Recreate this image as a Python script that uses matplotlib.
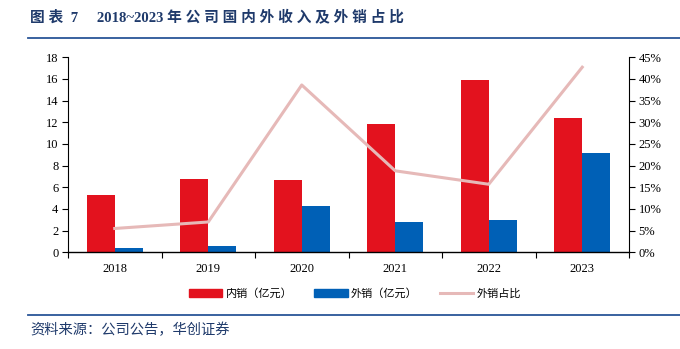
import numpy as np
import matplotlib.pyplot as plt
from matplotlib.lines import Line2D
from matplotlib.patches import Patch

plt.rcParams['font.family'] = ['Liberation Serif', 'Noto Sans CJK SC']

years = ['2018', '2019', '2020', '2021', '2022', '2023']
domestic = [5.3, 6.75, 6.65, 11.8, 15.9, 12.4]    # 内销（亿元）
overseas = [0.4, 0.58, 4.25, 2.8, 3.0, 9.2]       # 外销（亿元）
share = [5.5, 7.0, 38.6, 18.8, 15.7, 42.7]        # 外销占比 %

red = '#E3121E'
blue = '#0060B6'
pink = '#E6B9B8'
navy = '#1F3A6B'

fig = plt.figure(figsize=(6.8, 3.49), dpi=100)
ax = fig.add_axes([0.1, 0.277, 0.825, 0.559])
x = np.arange(len(years))
w = 0.3
ax.bar(x - w / 2, domestic, w, color=red, zorder=2)
ax.bar(x + w / 2, overseas, w, color=blue, zorder=2)
ax.set_ylim(0, 18)
ax.set_yticks(range(0, 19, 2))
ax.set_xlim(-0.5, len(years) - 0.5)
ax.set_xticks(x)
ax.set_xticklabels(years)
ax.set_xticks(np.arange(-0.5, len(years), 1), minor=True)
ax.tick_params(axis='x', which='major', length=0, pad=8)
ax.tick_params(axis='x', which='minor', length=4, direction='out', width=0.8)
ax.tick_params(axis='y', length=4, direction='out', width=0.8, pad=3)
ax.tick_params(labelsize=9)
for s in ['top', 'right']:
    ax.spines[s].set_visible(False)
ax.spines['left'].set_linewidth(0.8)
ax.spines['bottom'].set_linewidth(1.0)

ax2 = ax.twinx()
ax2.plot(x, share, color=pink, lw=2.2, zorder=3)
ax2.set_ylim(0, 45)
ax2.set_yticks(range(0, 46, 5))
ax2.set_yticklabels([f'{v}%' for v in range(0, 46, 5)])
ax2.tick_params(axis='y', length=4, direction='out', width=0.8, labelsize=9, pad=3)
for s in ['top', 'left', 'bottom']:
    ax2.spines[s].set_visible(False)
ax2.spines['right'].set_linewidth(0.8)
ax2.set_zorder(ax.get_zorder() + 1)

handles = [Patch(color=red), Patch(color=blue), Line2D([], [], color=pink, lw=2.2)]
labels = ['内销（亿元）', '外销（亿元）', '外销占比']
fig.legend(handles, labels, loc='center', bbox_to_anchor=(0.522, 0.16), ncol=3,
           frameon=False, fontsize=8, handlelength=3.0, handleheight=0.7,
           columnspacing=2.0, handletextpad=0.3)

fig.text(0.044, 0.951, '图 表  7     2018~2023 年 公 司 国 内 外 收 入 及 外 销 占 比',
         fontsize=10.6, fontweight='bold', color=navy, va='center')
fig.add_artist(Line2D([0.041, 1.0], [0.891, 0.891], color='#2A5597', lw=1.3))
fig.add_artist(Line2D([0.041, 1.0], [0.097, 0.097], color='#2A5597', lw=1.3))
fig.text(0.044, 0.055, '资料来源：公司公告，华创证券', fontsize=10.3, style='italic',
         color=navy, va='center')

fig.savefig('out.png', dpi=100)
